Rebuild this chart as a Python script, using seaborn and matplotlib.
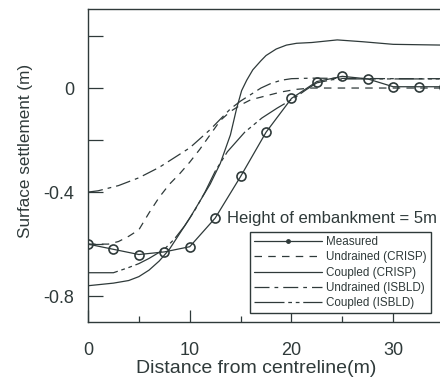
import matplotlib
matplotlib.use("Agg")
import matplotlib.pyplot as plt
from matplotlib.lines import Line2D
import seaborn as sns
import pandas as pd

# ---- data ----
meas_x = [0, 2.5, 5, 7.5, 10, 12.5, 15, 17.5, 20, 22.5, 25, 27.5, 30, 32.5, 35]
meas_y = [-0.60, -0.62, -0.64, -0.63, -0.61, -0.50, -0.34, -0.17, -0.04, 0.025, 0.045, 0.035, 0.005, 0.005, 0.005]

und_crisp_x = [0, 2, 3, 4, 5, 6, 7, 8, 9, 10, 11, 12, 13, 14, 15, 16, 17.5, 19, 20.5, 22, 25, 30, 35]
und_crisp_y = [-0.60, -0.60, -0.59, -0.57, -0.545, -0.48, -0.42, -0.37, -0.33, -0.285, -0.235, -0.18,
               -0.125, -0.09, -0.065, -0.045, -0.03, -0.015, -0.005, 0.0, 0.0, 0.0, 0.0]

cou_crisp_x = [0, 2.5, 4, 5, 6, 7, 8, 9, 10, 11, 12, 13, 14, 14.6, 15.1, 15.6, 16.2, 17, 17.5, 18.5,
               19.5, 20.5, 22, 24.5, 27, 30, 35]
cou_crisp_y = [-0.76, -0.75, -0.74, -0.725, -0.70, -0.665, -0.62, -0.56, -0.50, -0.435, -0.37, -0.29,
               -0.18, -0.08, -0.01, 0.03, 0.07, 0.105, 0.125, 0.15, 0.165, 0.172, 0.175, 0.185, 0.178,
               0.168, 0.165]

und_isbld_x = [0, 1, 2, 3, 4, 5, 6, 7, 8, 9, 10, 11, 12, 13, 14, 15, 16, 17, 18, 19, 20, 22, 25, 30, 35]
und_isbld_y = [-0.40, -0.395, -0.385, -0.375, -0.36, -0.345, -0.325, -0.305, -0.28, -0.255, -0.23,
               -0.195, -0.16, -0.12, -0.08, -0.05, -0.025, 0.0, 0.018, 0.03, 0.036, 0.038, 0.037,
               0.036, 0.036]

cou_isbld_x = [0, 2.5, 4, 5, 6, 7.5, 8.5, 9.5, 10.5, 11.5, 12.5, 13.7, 15.4, 17.1, 18.6, 20.3, 21.5,
               22.5, 24, 25, 30, 35]
cou_isbld_y = [-0.71, -0.71, -0.69, -0.675, -0.655, -0.62, -0.58, -0.53, -0.47, -0.40, -0.32, -0.245,
               -0.17, -0.115, -0.077, -0.038, -0.005, 0.02, 0.032, 0.035, 0.035, 0.035]

legend_labels = ["Measured", "Undrained (CRISP)", "Coupled (CRISP)", "Undrained (ISBLD)", "Coupled (ISBLD)"]
x_ticks = [0, 10, 20, 30]
y_ticks = [0.2, 0, -0.2, -0.4, -0.6, -0.8]
y_tick_labels = ["", "0", "", "-0.4", "", "-0.8"]

# ---- styling ----
sns.set_style("white")
plt.rcParams["font.family"] = ["Liberation Sans", "DejaVu Sans"]
ink = "#2f3a3a"

fig = plt.figure(figsize=(4.4, 3.79), dpi=100)
ax = fig.add_axes([0.2, 0.15, 0.8, 0.825])

lw = 0.9
styles = {
    "Undrained (CRISP)": (0, (6, 5)),
    "Coupled (CRISP)": "-",
    "Undrained (ISBLD)": (0, (12, 4, 3, 4)),
    "Coupled (ISBLD)": (0, (24, 3, 3, 3, 3, 3)),
}
series = {
    "Undrained (CRISP)": (und_crisp_x, und_crisp_y),
    "Coupled (CRISP)": (cou_crisp_x, cou_crisp_y),
    "Undrained (ISBLD)": (und_isbld_x, und_isbld_y),
    "Coupled (ISBLD)": (cou_isbld_x, cou_isbld_y),
}
for name, (xs, ys) in series.items():
    df = pd.DataFrame({"x": xs, "y": ys})
    sns.lineplot(data=df, x="x", y="y", ax=ax, sort=False, estimator=None,
                 color=ink, lw=lw, linestyle=styles[name])

dm = pd.DataFrame({"x": meas_x, "y": meas_y})
sns.lineplot(data=dm, x="x", y="y", ax=ax, sort=False, estimator=None,
             color=ink, lw=lw, marker="o", markersize=6.5,
             markerfacecolor="none", markeredgecolor=ink, markeredgewidth=1.2)

ax.set_xlim(0, 34.6)
ax.set_ylim(-0.9, 0.302)

ax.set_xticks(x_ticks)
ax.set_xticks([5, 15, 25], minor=True)
ax.set_yticks(y_ticks)
ax.set_yticklabels(y_tick_labels)
ax.tick_params(axis="y", which="major", direction="in", length=11, width=0.9,
               color=ink, labelsize=13, labelcolor=ink, pad=10, left=True)
ax.tick_params(axis="x", which="major", direction="in", length=9, width=0.9,
               color=ink, labelsize=13, labelcolor=ink, pad=14, bottom=True)
ax.tick_params(axis="x", which="minor", direction="in", length=4.5, width=0.9,
               color=ink, bottom=True)

ax.set_xlabel("Distance from centreline(m)", fontsize=14, color=ink)
ax.set_ylabel("Surface settlement (m)", fontsize=12.3, color=ink)
ax.xaxis.set_label_coords(0.477, -0.12)
ax.yaxis.set_label_coords(-0.155, 0.547)

for s in ["left", "bottom", "top"]:
    ax.spines[s].set_visible(True)
    ax.spines[s].set_color(ink)
    ax.spines[s].set_linewidth(1.0)
ax.spines["right"].set_visible(False)

ax.text(13.7, -0.50, "Height of embankment = 5m", fontsize=12, color=ink,
        va="center", ha="left")

handles = [
    Line2D([], [], color=ink, lw=lw, marker="o", markersize=2.5,
           markerfacecolor=ink, markeredgecolor=ink),
    Line2D([], [], color=ink, lw=lw, linestyle=styles["Undrained (CRISP)"]),
    Line2D([], [], color=ink, lw=lw, linestyle="-"),
    Line2D([], [], color=ink, lw=lw, linestyle=styles["Undrained (ISBLD)"]),
    Line2D([], [], color=ink, lw=lw, linestyle=styles["Coupled (ISBLD)"]),
]
leg = ax.legend(handles, legend_labels, loc="upper left",
                bbox_to_anchor=(0.46, 0.288), borderaxespad=0,
                fontsize=8.4, handlelength=5.8, numpoints=1,
                frameon=True, fancybox=False, framealpha=1,
                labelspacing=0.28, handletextpad=0.4, borderpad=0.35,
                labelcolor=ink)
leg.get_frame().set_edgecolor(ink)
leg.get_frame().set_linewidth(1.0)

fig.savefig("out.png", dpi=100)
